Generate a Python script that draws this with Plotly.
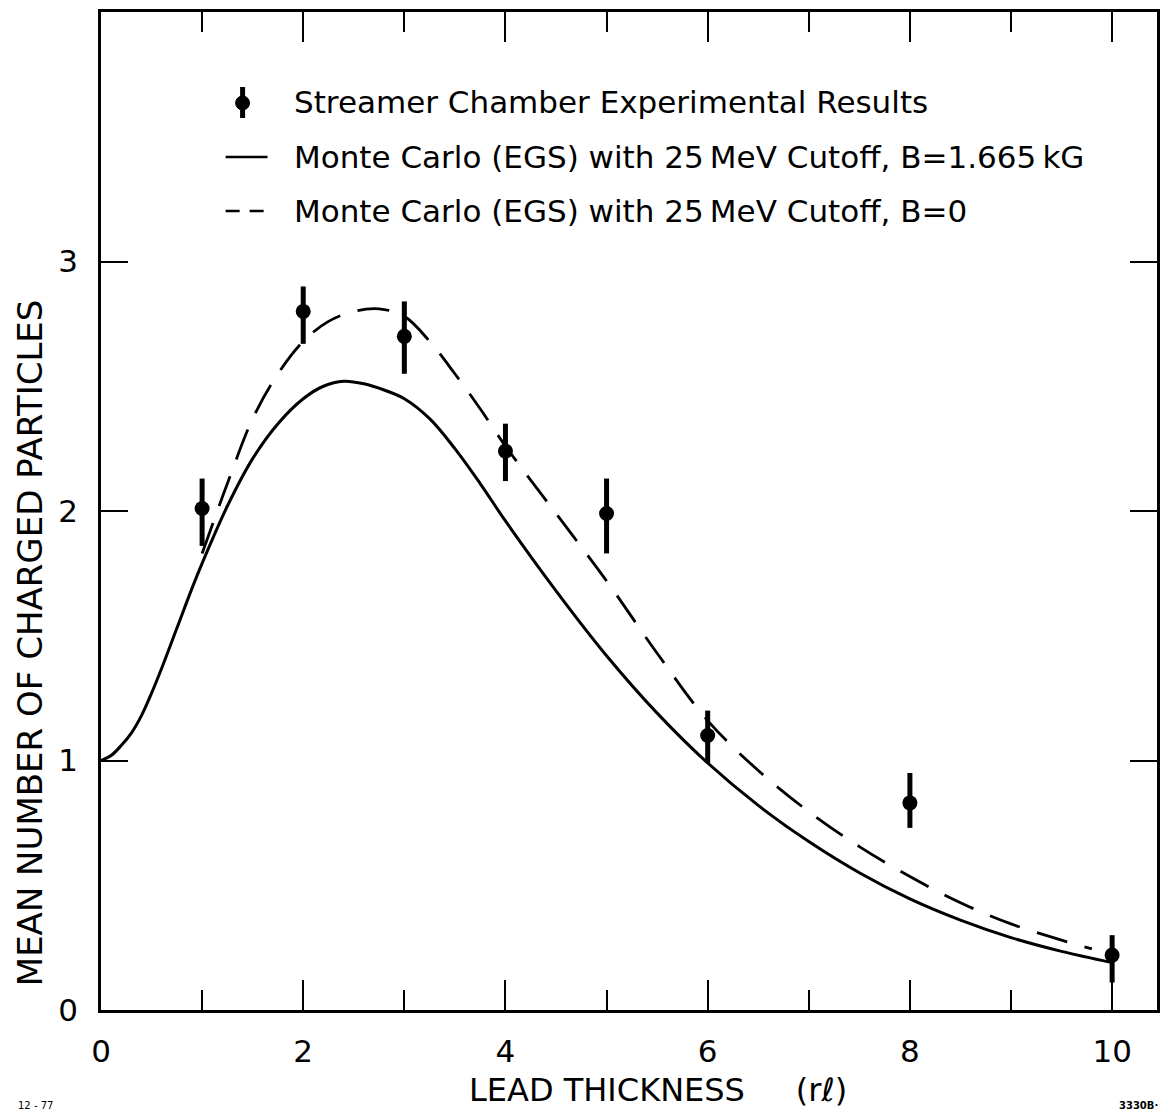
import plotly.graph_objects as go

# Streamer chamber measurements
thickness = [1, 2, 3, 4, 5, 6, 8, 10]
mean_charged = [2.01, 2.80, 2.70, 2.24, 1.99, 1.10, 0.83, 0.22]
err_up = [0.12, 0.10, 0.14, 0.11, 0.14, 0.10, 0.12, 0.08]
err_down = [0.15, 0.13, 0.15, 0.12, 0.16, 0.11, 0.10, 0.11]

# Monte Carlo (EGS), 25 MeV cutoff, B = 1.665 kG
mc_b_x = [0, 0.1, 0.2, 0.3, 0.4, 0.5, 0.6, 0.75, 0.9, 1.0, 1.25, 1.5, 1.75, 2.0,
          2.2, 2.4, 2.6, 2.8, 3.0, 3.25, 3.5, 3.75, 4.0, 4.5, 5.0, 5.5, 6.0, 6.5,
          7.0, 7.5, 8.0, 8.5, 9.0, 9.5, 10.0]
mc_b_y = [1.00, 1.02, 1.06, 1.11, 1.18, 1.27, 1.37, 1.53, 1.69, 1.79, 2.02, 2.21,
          2.35, 2.45, 2.50, 2.52, 2.51, 2.485, 2.45, 2.37, 2.25, 2.11, 1.96, 1.68,
          1.42, 1.19, 0.99, 0.82, 0.675, 0.55, 0.445, 0.36, 0.29, 0.235, 0.19]

# Monte Carlo (EGS), 25 MeV cutoff, B = 0
mc_0_x = [1.0, 1.25, 1.5, 1.75, 2.0, 2.25, 2.5, 2.75, 3.0, 3.25, 3.5, 3.75, 4.0,
          4.5, 5.0, 5.5, 6.0, 6.5, 7.0, 7.5, 8.0, 8.5, 9.0, 9.5, 9.8]
mc_0_y = [1.83, 2.11, 2.37, 2.55, 2.68, 2.76, 2.80, 2.81, 2.78, 2.68, 2.55, 2.41,
          2.26, 1.99, 1.72, 1.43, 1.16, 0.96, 0.795, 0.655, 0.535, 0.43, 0.345,
          0.28, 0.245]

x_ticks = [0, 2, 4, 6, 8, 10]
y_ticks = [0, 1, 2, 3]

legend_labels = [
    "Streamer Chamber Experimental Results",
    "Monte Carlo (EGS) with 25\u2009MeV Cutoff, B=1.665\u2009kG",
    "Monte Carlo (EGS) with 25\u2009MeV Cutoff, B=0",
]
x_title = "LEAD THICKNESS\u00a0\u00a0\u00a0\u00a0\u00a0(r\u2113)"
y_title = "MEAN NUMBER OF CHARGED PARTICLES"

W, H = 1162, 1113
ML, MR, MT, MB = 101, 2, 12, 103
FONT = "DejaVu Sans"


def px(xp):
    return (xp - ML) / (W - ML - MR)


def py(yp):
    return (H - MB - yp) / (H - MT - MB)


fig = go.Figure()

fig.add_trace(go.Scatter(
    x=mc_b_x, y=mc_b_y, mode="lines",
    line=dict(color="black", width=3, shape="spline", smoothing=1.0),
    showlegend=False,
))
fig.add_trace(go.Scatter(
    x=mc_0_x, y=mc_0_y, mode="lines",
    line=dict(color="black", width=2.8, shape="spline", smoothing=1.0,
              dash="32px,18px"),
    showlegend=False,
))
fig.add_trace(go.Scatter(
    x=thickness, y=mean_charged, mode="markers",
    marker=dict(color="black", size=15),
    error_y=dict(type="data", symmetric=False, array=err_up,
                 arrayminus=err_down, color="black", thickness=5, width=0),
    showlegend=False,
))

# Legend glyphs and labels
shapes = []
# error-bar glyph
shapes.append(dict(type="line", xref="paper", yref="paper",
                   x0=px(243), x1=px(243), y0=py(87), y1=py(118),
                   line=dict(color="black", width=5)))
shapes.append(dict(type="circle", xref="paper", yref="paper",
                   x0=px(236), x1=px(250), y0=py(96), y1=py(110),
                   fillcolor="black", line=dict(color="black", width=1)))
# solid sample
shapes.append(dict(type="line", xref="paper", yref="paper",
                   x0=px(226), x1=px(268), y0=py(157), y1=py(157),
                   line=dict(color="black", width=2.5)))
# dashed sample
shapes.append(dict(type="line", xref="paper", yref="paper",
                   x0=px(226), x1=px(268), y0=py(211), y1=py(211),
                   line=dict(color="black", width=2.5, dash="14px,10px")))

annotations = []
for label, yp in zip(legend_labels, [102, 157, 211]):
    annotations.append(dict(
        text=label, xref="paper", yref="paper", x=px(293), y=py(yp),
        xanchor="left", yanchor="middle", showarrow=False,
        font=dict(family=FONT, size=31, color="black")))

# axis titles
annotations.append(dict(
    text=x_title, xref="paper", yref="paper", x=px(468), y=py(1090),
    xanchor="left", yanchor="middle", showarrow=False,
    font=dict(family=FONT, size=32, color="black")))
annotations.append(dict(
    text=y_title, xref="paper", yref="paper", x=px(30), y=py(643),
    xanchor="center", yanchor="middle", showarrow=False, textangle=-90,
    font=dict(family=FONT, size=34, color="black")))

annotations.append(dict(
    text="12 - 77", xref="paper", yref="paper", x=px(16), y=py(1105),
    xanchor="left", yanchor="middle", showarrow=False,
    font=dict(family=FONT, size=10, color="black")))
annotations.append(dict(
    text="<b>3330B·</b>", xref="paper", yref="paper", x=px(1120), y=py(1105),
    xanchor="left", yanchor="middle", showarrow=False,
    font=dict(family=FONT, size=10, color="black")))

fig.update_layout(
    width=W, height=H,
    margin=dict(l=ML, r=MR, t=MT, b=MB),
    paper_bgcolor="white", plot_bgcolor="white",
    shapes=shapes, annotations=annotations,
    font=dict(family=FONT, color="black"),
)

fig.update_xaxes(
    range=[0, (W - ML - MR) / 101.4],
    tickvals=x_ticks, ticktext=[str(v) for v in x_ticks],
    ticks="inside", ticklen=30, tickwidth=2, tickcolor="black",
    minor=dict(dtick=1, tick0=0, ticks="inside", ticklen=20, tickwidth=2,
               tickcolor="black", showgrid=False),
    showline=True, linewidth=2.5, linecolor="black", mirror="ticks",
    showgrid=False, zeroline=False,
    tickfont=dict(family=FONT, size=31), ticklabelstandoff=12,
)
fig.update_yaxes(
    range=[0, 4],
    tickvals=y_ticks, ticktext=[str(v) for v in y_ticks],
    ticks="inside", ticklen=27, tickwidth=2, tickcolor="black",
    showline=True, linewidth=2.5, linecolor="black", mirror="ticks",
    showgrid=False, zeroline=False,
    tickfont=dict(family=FONT, size=31), ticklabelstandoff=14,
)

fig.write_html("out.html")
